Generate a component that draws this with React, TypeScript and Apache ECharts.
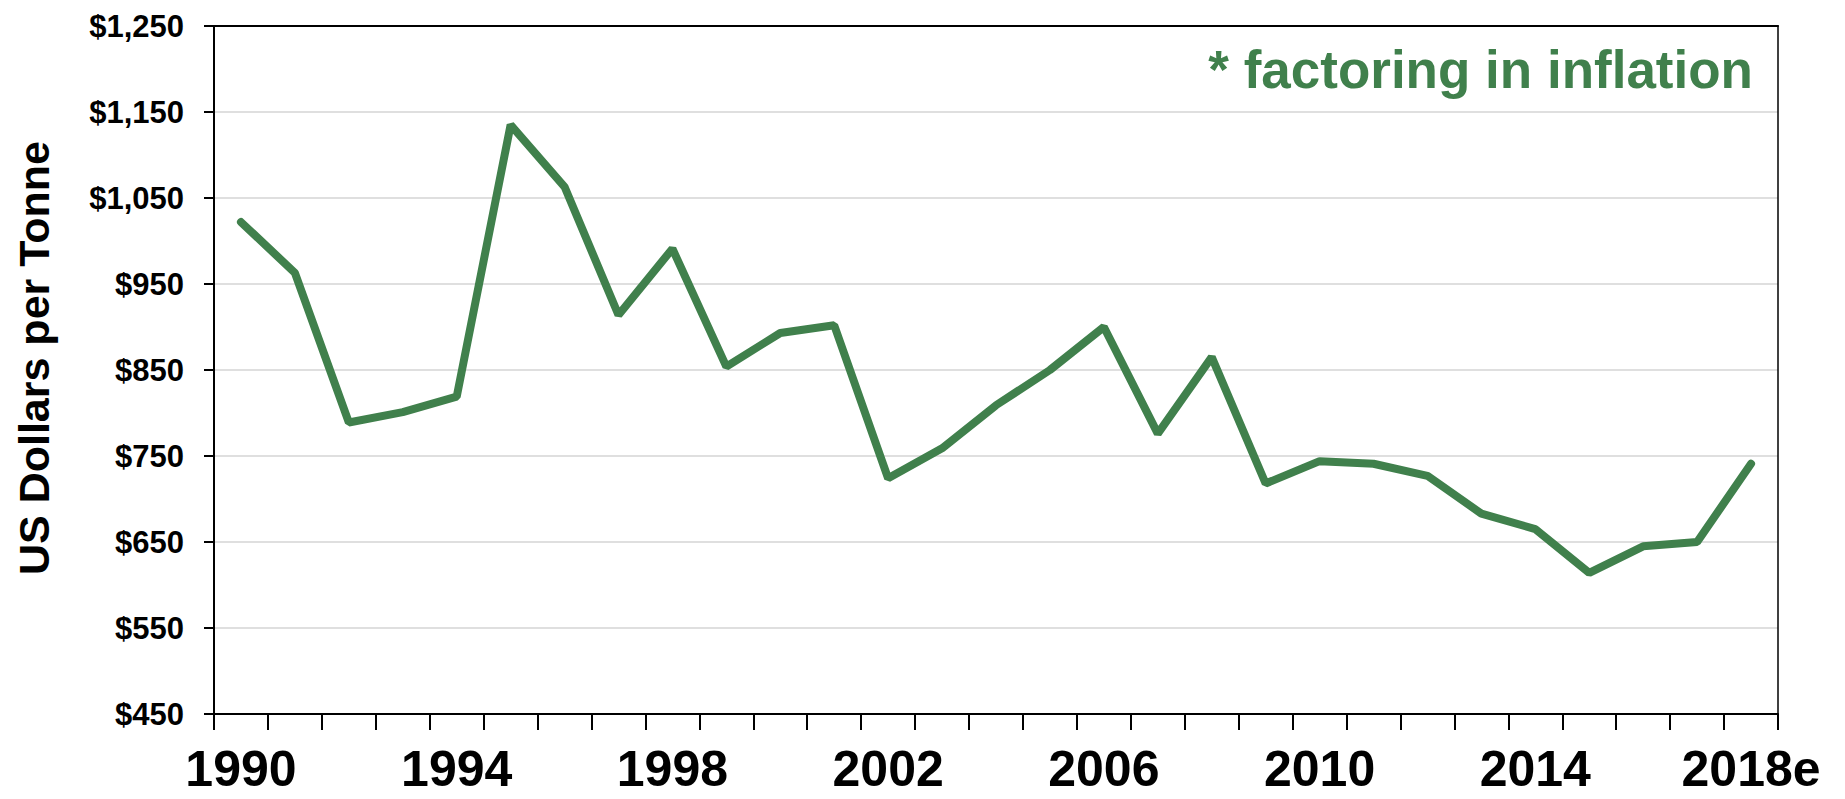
import React, { useEffect, useRef } from "react";
import * as echarts from "echarts";

const years = [
  "1990", "1991", "1992", "1993", "1994", "1995", "1996", "1997", "1998", "1999",
  "2000", "2001", "2002", "2003", "2004", "2005", "2006", "2007", "2008", "2009",
  "2010", "2011", "2012", "2013", "2014", "2015", "2016", "2017", "2018e",
];
const prices = [
  1022, 963, 789, 801, 819, 1135, 1063, 914, 991, 854,
  893, 902, 724, 759, 809, 850, 900, 776, 865, 718,
  744, 741, 727, 683, 665, 614, 645, 650, 741,
];
const yMin = 450;
const yMax = 1250;
const yStep = 100;
const yTitle = "US Dollars per Tonne";
const note = "* factoring in inflation";

const FONT = 'Arial, "Liberation Sans", Helvetica, sans-serif';
const GREEN = "#40804C";

export default function App() {
  const ref = useRef<HTMLDivElement>(null);
  useEffect(() => {
    if (!ref.current) return;
    const chart = echarts.init(ref.current, undefined, { renderer: "svg" });
    chart.setOption({
      animation: false,
      backgroundColor: "#ffffff",
      grid: { left: 214, right: 67, top: 26, bottom: 85, containLabel: false },
      xAxis: [
        {
          type: "category",
          data: years,
          boundaryGap: true,
          axisLine: { show: true, lineStyle: { color: "#000", width: 2 } },
          axisTick: { show: true, interval: 0, length: 16, lineStyle: { color: "#000", width: 2 } },
          axisLabel: {
            interval: 3,
            fontSize: 50,
            lineHeight: 50,
            fontWeight: "bold",
            fontFamily: FONT,
            color: "#000",
            margin: 30,
          },
          splitLine: { show: false },
        },
        {
          type: "category",
          data: years,
          position: "top",
          axisLine: { show: true, lineStyle: { color: "#000", width: 2 } },
          axisTick: { show: false },
          axisLabel: { show: false },
          splitLine: { show: false },
        },
      ],
      yAxis: [
        {
          type: "value",
          min: yMin,
          max: yMax,
          interval: yStep,
          axisLine: { show: true, lineStyle: { color: "#000", width: 2 } },
          axisTick: { show: true, length: 10, lineStyle: { color: "#000", width: 2 } },
          axisLabel: {
            fontSize: 31,
            fontWeight: "bold",
            fontFamily: FONT,
            color: "#000",
            margin: 30,
            formatter: (v: number) => "$" + v.toLocaleString("en-US"),
          },
          splitLine: { show: true, lineStyle: { color: "#d4d4d4", width: 1.5 } },
        },
        {
          type: "value",
          min: yMin,
          max: yMax,
          interval: yStep,
          position: "right",
          axisLine: { show: true, lineStyle: { color: "#000", width: 1.5 } },
          axisTick: { show: false },
          axisLabel: { show: false },
          splitLine: { show: false },
        },
      ],
      series: [
        {
          type: "line",
          data: prices,
          xAxisIndex: 0,
          yAxisIndex: 0,
          symbol: "none",
          lineStyle: { color: GREEN, width: 8, cap: "round" },
          z: 5,
        },
      ],
      graphic: [
        {
          type: "text",
          x: 34,
          y: 358,
          rotation: Math.PI / 2,
          style: {
            text: yTitle,
            fontSize: 43,
            fontWeight: "bold",
            fontFamily: FONT,
            fill: "#000",
            align: "center",
            verticalAlign: "middle",
          },
        },
        {
          type: "text",
          x: 1753,
          y: 69,
          style: {
            text: note,
            fontSize: 53,
            fontWeight: "bold",
            fontFamily: FONT,
            fill: GREEN,
            align: "right",
            verticalAlign: "middle",
          },
        },
      ],
    });
    return () => chart.dispose();
  }, []);
  return (
    <div
      ref={ref}
      style={{ position: "fixed", left: 0, top: 0, width: 1845, height: 799 }}
    />
  );
}
